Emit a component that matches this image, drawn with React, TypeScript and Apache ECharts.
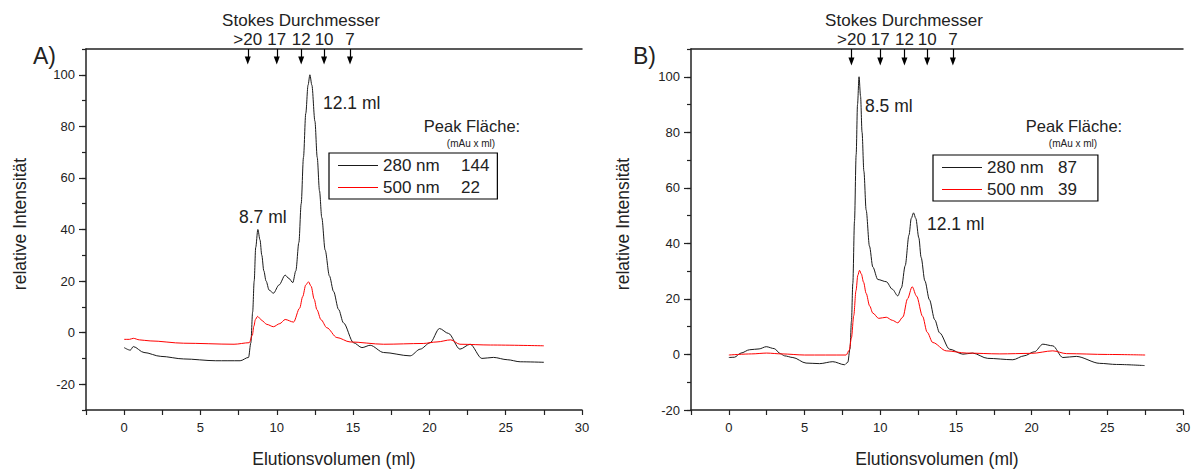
import React, { useEffect, useRef } from "react";
import * as echarts from "echarts";

// ---- Panel A data ----
const volA280 = [0, 0.4, 0.6, 1.3, 2.4, 3.9, 6.0, 7.6, 8.15, 8.3, 8.42, 8.52, 8.62, 8.76, 8.9, 9.02, 9.15, 9.3, 9.5, 9.78, 10.15, 10.55, 10.8, 11.05, 11.25, 11.45, 11.6, 11.75, 11.9, 12.05, 12.17, 12.3, 12.5, 12.65, 12.8, 12.95, 13.17, 13.45, 13.72, 14.05, 14.37, 15.03, 15.58, 16.12, 17.0, 18.74, 19.4, 20.05, 20.66, 21.25, 22.0, 22.67, 23.44, 24.2, 25.1, 25.95, 27.5];
const absA280 = [-5.8, -6.8, -5.4, -7.7, -9.2, -10.2, -10.9, -10.9, -9.6, -4, 8, 20, 33, 40, 36, 30, 24, 20, 16.5, 15.3, 18.5, 22.3, 21, 19.4, 24, 35, 50, 68, 85, 96, 100, 96, 82, 68, 55, 44.6, 32, 22, 16, 9, 3.8, -3.9, -5.8, -4.9, -7.7, -9, -6.4, -3.9, 1.6, -0.3, -6.4, -4.5, -10, -9.6, -10.5, -11.3, -11.5];
const volA500 = [0, 0.35, 0.6, 1.0, 1.7, 3.9, 7.2, 8.2, 8.4, 8.5, 8.6, 8.74, 8.9, 9.0, 9.35, 9.78, 10.2, 10.55, 11.1, 11.5, 11.7, 11.9, 12.08, 12.25, 12.45, 12.63, 12.9, 13.28, 13.94, 14.8, 17.0, 19.6, 20.5, 21.4, 22.0, 24.0, 27.5];
const absA500 = [-2.6, -2.6, -2.2, -2.8, -3.2, -4.1, -4.5, -3.9, -1, 2.5, 5.1, 6.3, 5.5, 4.8, 3.2, 2.3, 3.5, 5.1, 4.1, 9.5, 14, 18.5, 19.7, 18, 13, 8.9, 5, 1.9, -1.9, -3.6, -4.5, -4.2, -3.6, -2.8, -4.5, -4.8, -5.1];

// ---- Panel B data ----
const volB280 = [0, 0.37, 0.8, 1.37, 2.0, 2.47, 3.0, 3.4, 3.68, 4.23, 5.1, 6.0, 6.87, 7.64, 7.86, 8.0, 8.1, 8.19, 8.3, 8.41, 8.5, 8.6, 8.7, 8.8, 8.92, 9.07, 9.29, 9.51, 9.84, 10.4, 10.8, 11.16, 11.4, 11.65, 11.9, 12.05, 12.2, 12.35, 12.55, 12.7, 12.95, 13.25, 13.6, 13.92, 14.58, 15.46, 16.1, 17.1, 18.76, 19.5, 20.2, 20.74, 21.4, 22.06, 22.95, 24.5, 25.6, 27.46];
const absB280 = [-1.1, -1.0, 0.5, 1.7, 2.0, 2.8, 2.1, 0.3, -0.5, -1.1, -3.1, -3.3, -2.6, -3.7, -2.8, 2, 12, 25.6, 48, 72, 90, 100, 93, 80, 66, 52, 39, 31.5, 27, 26.2, 23.5, 21.1, 24, 32, 43, 49, 51, 49, 42, 35, 26.5, 19.7, 12.5, 7.8, 1.9, 0.1, 0.5, -1.4, -1.9, -0.5, 1, 3.7, 3.1, -1.1, -0.7, -3.2, -3.6, -4];
const volB500 = [0, 1.5, 2.5, 3.5, 5.0, 7.75, 7.95, 8.1, 8.25, 8.4, 8.52, 8.63, 8.75, 8.9, 9.07, 9.3, 9.51, 9.9, 10.4, 10.8, 11.16, 11.5, 11.8, 12.11, 12.4, 12.8, 13.1, 13.47, 14.36, 15.7, 17.9, 20.0, 21.4, 22.3, 25.0, 27.5];
const absB500 = [-0.2, 0.2, 0.5, 0.2, -0.2, -0.2, 1.5, 6, 14, 23, 28.5, 30.3, 29, 26, 22, 17.5, 14.9, 13, 13.4, 12.3, 11.4, 13.5, 20, 24.4, 21, 13.7, 8, 4.3, 1.3, 0.5, 0.2, 0.4, 1.3, 0.3, 0, -0.2];

// ---- labels / annotations ----
const seriesNames = ["280 nm", "500 nm"];
const seriesColors = ["#1a1a1a", "#ff0000"];
const peakAreaA = [144, 22];
const peakAreaB = [87, 39];
const stokesPos = [8.1, 10, 11.6, 13.1, 14.8];
const stokesLabels = [">20", "17", "12", "10", "7"];
const xTicksLabeled = [0, 5, 10, 15, 20, 25, 30];
const yMajorA = [-20, 0, 20, 40, 60, 80, 100];
const yMajorB = [-20, 0, 20, 40, 60, 80, 100];

const FONT = "'Liberation Sans', Arial, sans-serif";
const TXT = "#222";
const AX = "#222";

const zip = (xs: number[], ys: number[]) => xs.map((x, i) => [x, ys[i]]);

function App() {
  const ref = useRef<HTMLDivElement>(null);
  useEffect(() => {
    if (!ref.current) return;
    const chart = echarts.init(ref.current, null, { renderer: "svg" });

    const grids = [
      { left: 86, top: 49, width: 496, height: 366 },
      { left: 691, top: 49, width: 492, height: 366 },
    ];

    const xAxisBase = (gi: number) => ({
      type: "value",
      gridIndex: gi,
      min: -2.5,
      max: 30,
      interval: 2.5,
      position: "bottom",
      name: "Elutionsvolumen (ml)",
      nameLocation: "middle",
      nameGap: 40,
      nameTextStyle: { fontFamily: FONT, fontSize: 17.5, color: TXT },
      axisLine: { show: true, onZero: false, lineStyle: { color: AX, width: 1.5 } },
      axisTick: { show: true, length: 5, lineStyle: { color: AX, width: 1.2 } },
      axisLabel: {
        fontFamily: FONT,
        fontSize: 13,
        color: TXT,
        margin: 11,
        formatter: (v: number) => (xTicksLabeled.includes(v) ? String(v) : ""),
      },
      splitLine: { show: false },
    });
    const xAxisTop = (gi: number) => ({
      type: "value",
      gridIndex: gi,
      min: -2.5,
      max: 30,
      position: "top",
      axisLine: { show: true, onZero: false, lineStyle: { color: AX, width: 1.5 } },
      axisTick: { show: false },
      axisLabel: { show: false },
      splitLine: { show: false },
    });
    const yAxisMain = (gi: number, min: number, majors: number[]) => ({
      type: "value",
      gridIndex: gi,
      min,
      max: 110,
      interval: 10,
      position: "left",
      axisLine: { show: true, onZero: false, lineStyle: { color: AX, width: 1.5 } },
      axisTick: { show: true, length: 4, lineStyle: { color: AX, width: 1.2 } },
      axisLabel: {
        fontFamily: FONT,
        fontSize: 13,
        color: TXT,
        margin: 11,
        formatter: (v: number) => (majors.includes(v) ? String(v) : ""),
      },
      splitLine: { show: false },
    });
    const yAxisMajorTicks = (gi: number, min: number, majors: number[]) => ({
      type: "value",
      gridIndex: gi,
      min,
      max: 110,
      position: "left",
      axisLine: { show: false, onZero: false },
      axisTick: { show: true, length: 7, customValues: majors, lineStyle: { color: AX, width: 1.2 } },
      axisLabel: { show: false },
      splitLine: { show: false },
    });

    const stokesMark = {
      silent: true,
      symbol: ["none", "triangle"],
      symbolSize: [6, 8],
      lineStyle: { color: "#000", width: 1.2, type: "solid" },
      label: {
        show: true,
        position: "start",
        distance: 1,
        formatter: "{b}",
        fontFamily: FONT,
        fontSize: 17,
        color: TXT,
      },
      emphasis: { disabled: true },
      data: stokesPos.map((x, i) => [
        { coord: [x, 110], name: stokesLabels[i] },
        { coord: [x, 105.5] },
      ]),
    };

    const lineSeries = (name: string, gi: number, data: number[][], color: string, withMark: boolean) => ({
      type: "line",
      name,
      xAxisIndex: gi * 2,
      yAxisIndex: gi * 2,
      data,
      symbol: "none",
      smooth: 0.3,
      smoothMonotone: "x",
      lineStyle: { color, width: 1 },
      itemStyle: { color },
      emphasis: { disabled: true },
      z: name === "500 nm" ? 3 : 2,
      markLine: withMark ? stokesMark : undefined,
    });

    const legend = (left: number, top: number, values: number[], nW: number, padR: number) => ({
      orient: "vertical",
      left,
      top,
      data: seriesNames.map((n, i) => ({ name: n, itemStyle: { color: seriesColors[i] } })),
      selectedMode: false,
      icon: "rect",
      padding: [4, padR, 3, 9],
      itemWidth: 40,
      itemHeight: 1,
      itemGap: 5,
      borderColor: "#000",
      borderWidth: 1.2,
      backgroundColor: "#fff",
      formatter: (name: string) => `{n|${name}}{v|${values[seriesNames.indexOf(name)]}}`,
      textStyle: {
        fontFamily: FONT,
        fontSize: 17,
        color: TXT,
        rich: {
          n: { fontFamily: FONT, fontSize: 17, color: TXT, width: nW, lineHeight: 18 },
          v: { fontFamily: FONT, fontSize: 17, color: TXT, lineHeight: 18 },
        },
      },
    });

    const txt = (text: string, x: number, y: number, size: number, align = "left", extra: any = {}) => ({
      type: "text",
      x,
      y,
      silent: true,
      ...extra,
      style: {
        text,
        fontFamily: FONT,
        fontSize: size,
        fill: TXT,
        align,
        verticalAlign: "middle",
      },
    });

    chart.setOption({
      animation: false,
      backgroundColor: "#fff",
      grid: grids,
      xAxis: [xAxisBase(0), xAxisTop(0), xAxisBase(1), xAxisTop(1)],
      yAxis: [
        yAxisMain(0, -30, yMajorA),
        yAxisMajorTicks(0, -30, yMajorA),
        yAxisMain(1, -20, yMajorB),
        yAxisMajorTicks(1, -20, yMajorB),
      ],
      legend: [legend(329, 153, peakAreaA, 78, 8), legend(933, 155, peakAreaB, 71, 21)],
      series: [
        lineSeries("280 nm", 0, zip(volA280, absA280), seriesColors[0], true),
        lineSeries("500 nm", 0, zip(volA500, absA500), seriesColors[1], false),
        lineSeries("280 nm", 1, zip(volB280, absB280), seriesColors[0], true),
        lineSeries("500 nm", 1, zip(volB500, absB500), seriesColors[1], false),
      ],
      graphic: [
        txt("A)", 33, 56, 23, "left", {}),
        txt("B)", 633, 56, 23, "left", {}),
        txt("Stokes Durchmesser", 301, 20, 17, "center"),
        txt("Stokes Durchmesser", 904, 20, 17, "center"),
        txt("relative Intensität", 20, 224, 17.5, "center", { rotation: Math.PI / 2 }),
        txt("relative Intensität", 623, 224, 17.5, "center", { rotation: Math.PI / 2 }),
        txt("Peak Fläche:", 472, 126, 16.5, "center"),
        txt("(mAu x ml)", 471, 143, 10, "center"),
        txt("Peak Fläche:", 1074, 126, 16.5, "center"),
        txt("(mAu x ml)", 1073, 143, 10, "center"),
        txt("12.1 ml", 323, 103, 17.5, "left"),
        txt("8.7 ml", 239, 217, 17.5, "left"),
        txt("8.5 ml", 865, 106, 17.5, "left"),
        txt("12.1 ml", 927, 224, 17.5, "left"),
      ],
    });
    return () => chart.dispose();
  }, []);
  return <div ref={ref} style={{ position: "absolute", left: 0, top: 0, width: 1196, height: 473 }} />;
}

export default App;
